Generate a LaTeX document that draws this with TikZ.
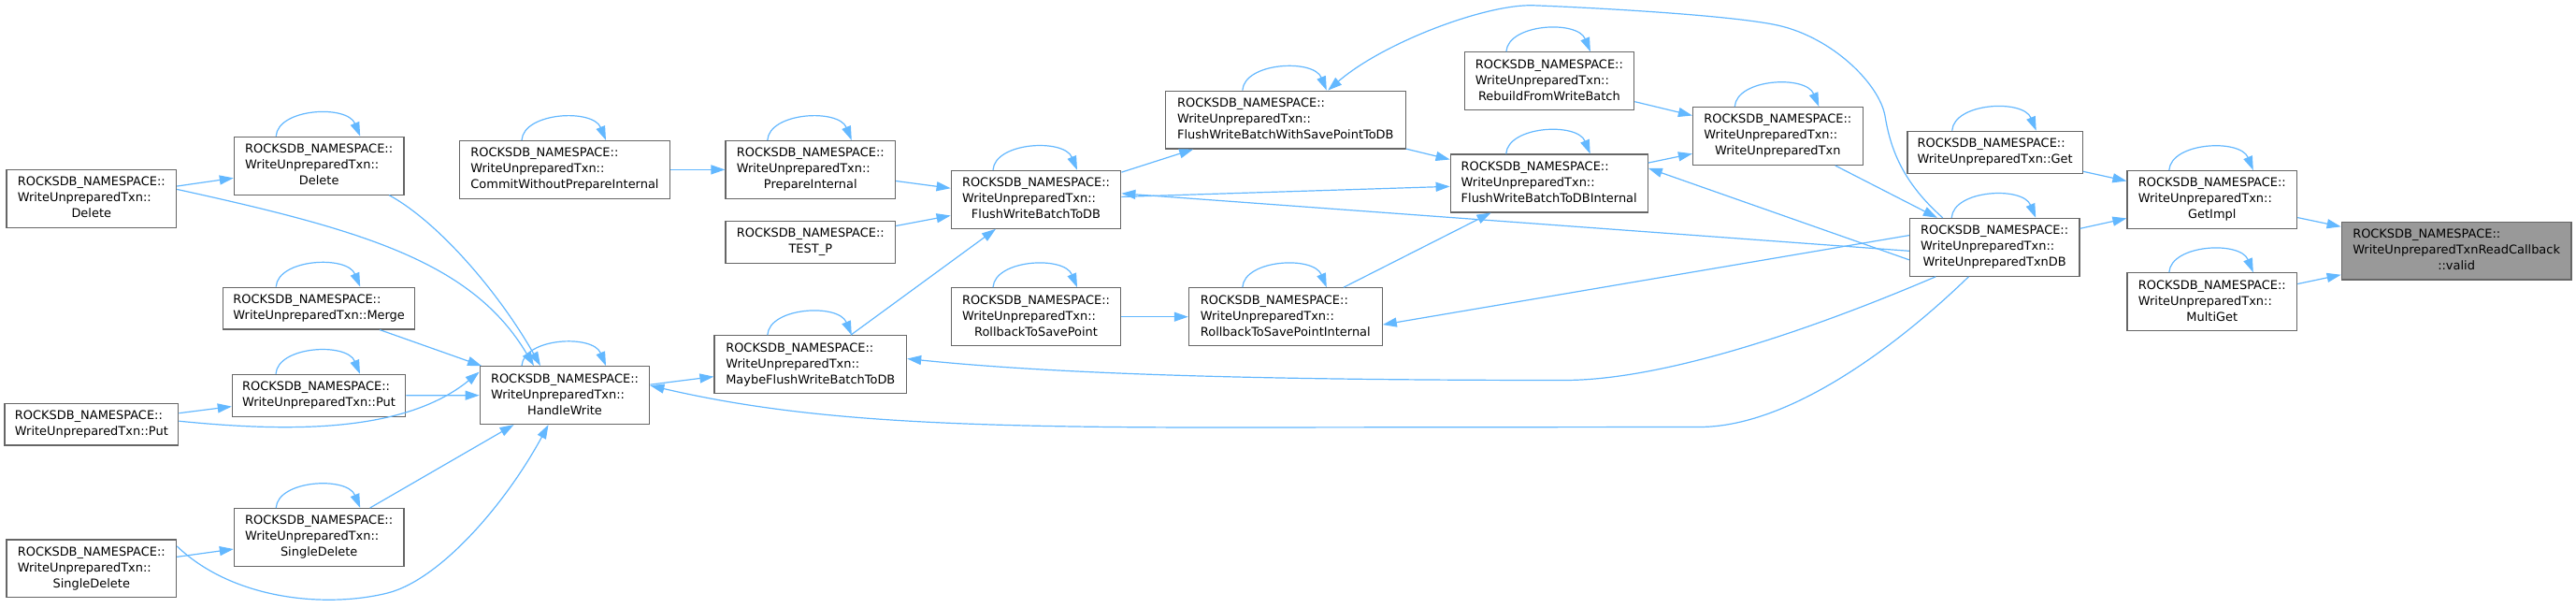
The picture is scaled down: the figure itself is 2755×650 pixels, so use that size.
\documentclass[tikz,border=0pt]{standalone}
\usepackage{fontspec}
\setmainfont{DejaVu Sans}
\usetikzlibrary{arrows.meta}
\definecolor{edgeblue}{HTML}{63B8FF}
\definecolor{nodeborder}{HTML}{666666}
\definecolor{hlfill}{HTML}{999999}
\newcommand{\nsA}{ROCKSDB\_NAMESPACE::}
\newcommand{\wut}{WriteUnpreparedTxn::}
\newcommand{\lblthree}[3]{\begin{tabular}{@{}l@{}}#1\\#2\\\multicolumn{1}{@{}c@{}}{#3}\end{tabular}}
\newcommand{\lbltwo}[2]{\begin{tabular}{@{}l@{}}#1\\\multicolumn{1}{@{}c@{}}{#2}\end{tabular}}
\newcommand{\selfloop}[1]{\draw[edge] ([xshift=-46pt]#1.north) .. controls +(2,-30) and +(-14,-34) .. ([xshift=44pt]#1.north);}
\tikzset{
  fn/.style={draw=nodeborder, line width=1.2pt, fill=white, inner sep=0pt,
    minimum height=61.8pt, minimum width=181.6pt,
    font=\fontsize{12.95}{17}\selectfont},
  two/.style={minimum height=44.8pt},
  edge/.style={draw=edgeblue, line width=1.2pt, -{Triangle[length=15pt,width=10pt]}}
}
\begin{document}
\begin{tikzpicture}[x=1pt,y=-1pt]
\fill[white] (0,0) rectangle (2755,650);
\useasboundingbox (0,0) rectangle (2755,650);

% nodes
\node[fn] (DelL) at (97.8,212.2) {\lblthree{\nsA}{\wut}{Delete}};
\node[fn] (DelM) at (341.2,177.2) {\lblthree{\nsA}{\wut}{Delete}};
\node[fn, minimum width=224.7pt] (CWPI) at (604,181.4) {\lblthree{\nsA}{\wut}{CommitWithoutPrepareInternal}};
\node[fn, two, minimum width=204.7pt] (Merge) at (341.2,329.6) {\lbltwo{\nsA}{WriteUnpreparedTxn::Merge}};
\node[fn, two, minimum width=185.3pt] (PutM) at (341,422.8) {\lbltwo{\nsA}{WriteUnpreparedTxn::Put}};
\node[fn, two, minimum width=185.7pt] (PutL) at (97.9,453.5) {\lbltwo{\nsA}{WriteUnpreparedTxn::Put}};
\node[fn] (HW) at (604,422.6) {\lblthree{\nsA}{\wut}{HandleWrite}};
\node[fn] (SDM) at (341.2,574.5) {\lblthree{\nsA}{\wut}{SingleDelete}};
\node[fn] (SDL) at (97.8,607.9) {\lblthree{\nsA}{\wut}{SingleDelete}};
\node[fn] (Prep) at (866.8,181.4) {\lblthree{\nsA}{\wut}{PrepareInternal}};
\node[fn, two] (TestP) at (866.8,258.7) {\lbltwo{\nsA}{TEST\_P}};
\node[fn, minimum width=205.6pt] (Maybe) at (866.8,389.7) {\lblthree{\nsA}{\wut}{MaybeFlushWriteBatchToDB}};
\node[fn] (FWB) at (1108,213.3) {\lblthree{\nsA}{\wut}{FlushWriteBatchToDB}};
\node[fn] (RbSP) at (1108,338.7) {\lblthree{\nsA}{\wut}{RollbackToSavePoint}};
\node[fn, minimum width=256.6pt] (FWBSP) at (1374.8,128.1) {\lblthree{\nsA}{\wut}{FlushWriteBatchWithSavePointToDB}};
\node[fn, minimum width=206.9pt] (RbSPI) at (1374.8,338.7) {\lblthree{\nsA}{\wut}{RollbackToSavePointInternal}};
\node[fn] (Rebuild) at (1656.9,86.7) {\lblthree{\nsA}{\wut}{RebuildFromWriteBatch}};
\node[fn, minimum width=211pt] (FWBI) at (1656.7,196) {\lblthree{\nsA}{\wut}{FlushWriteBatchToDBInternal}};
\node[fn] (WUT) at (1901.3,145.5) {\lblthree{\nsA}{\wut}{WriteUnpreparedTxn}};
\node[fn, two, minimum width=187.3pt] (Get) at (2133.7,162.7) {\lbltwo{\nsA}{WriteUnpreparedTxn::Get}};
\node[fn] (WUTDB) at (2133.2,264.3) {\lblthree{\nsA}{\wut}{WriteUnpreparedTxnDB}};
\node[fn] (GetImpl) at (2365.8,213.5) {\lblthree{\nsA}{\wut}{GetImpl}};
\node[fn] (MultiGet) at (2365.8,322.7) {\lblthree{\nsA}{\wut}{MultiGet}};
\node[fn, fill=hlfill, minimum width=245.8pt] (Valid) at (2627.1,268) {\lblthree{\nsA}{WriteUnpreparedTxnReadCallback}{::valid}};

% self loops
\foreach \n in {DelM,Merge,PutM,SDM,CWPI,HW,Prep,Maybe,FWB,RbSP,FWBSP,RbSPI,Rebuild,FWBI,WUT,Get,WUTDB,GetImpl,MultiGet}{\selfloop{\n}}

% left part
\draw[edge] (DelL) -- (DelM);
\draw[edge] ([yshift=9.8pt]DelL.east) .. controls (388.6,246) and (505,280) .. ([xshift=-33pt]HW.north);
\draw[edge] ([xshift=75pt]DelM.south) .. controls (470,238) and (535,315) .. ([xshift=-26pt]HW.north);
\draw[edge] (Merge) -- (HW);
\draw[edge] (PutM) -- (HW);
\draw[edge] (PutL) -- (PutM);
\draw[edge] ([yshift=3.3pt]PutL.east) .. controls (300,461) and (430,465) .. ([yshift=25pt]HW.west);
\draw[edge] (SDM) -- (HW);
\draw[edge] (SDL) -- (SDM);
\draw[edge] ([yshift=24pt]SDL.east) .. controls (250,642) and (350,650) .. (414.5,634) .. controls (470,620) and (540,540) .. ([xshift=-17.5pt]HW.south);

% middle
\draw[edge] (CWPI) -- (Prep);
\draw[edge] (Prep) -- (FWB);
\draw[edge] (TestP) -- (FWB);
\draw[edge] (Maybe) -- (FWB);
\draw[edge] (HW) -- (Maybe);
\draw[edge] (FWB) -- (FWBSP);
\draw[edge] (FWB) -- (FWBI);
\draw[edge] (FWBSP) -- (FWBI);
\draw[edge] (RbSP) -- (RbSPI);
\draw[edge] (RbSPI) -- (FWBI);
\draw[edge] (Rebuild) -- (WUT);
\draw[edge] (FWBI) -- (WUT);
\draw[edge] (WUT) -- (WUTDB);

% from WriteUnpreparedTxnDB
\draw[edge] ([yshift=-4pt]WUTDB.west) -- ([yshift=6.5pt]FWB.east);
\draw[edge] ([yshift=-13.5pt]WUTDB.west) -- ([yshift=16.2pt]FWBI.east);
\draw[edge] ([yshift=12.7pt]WUTDB.west) -- ([yshift=-8.4pt]RbSPI.east);
\draw[edge] ([xshift=-63pt]WUTDB.south) .. controls (1990,330) and (1800,406.5) .. (1673,406.5) .. controls (1400,406.5) and (1150,402) .. ([yshift=6.2pt]Maybe.east);
\draw[edge] ([xshift=-27.8pt]WUTDB.south) .. controls (2060,340) and (1930,456) .. (1818,456.5) -- (1300,457) .. controls (1000,457) and (850,448) .. ([yshift=10.4pt]HW.east);
\draw[edge] ([xshift=-55.5pt]WUTDB.north) .. controls (2035,195) and (2022,160) .. (2016,124) .. controls (2010,90) and (1960,40) .. (1901,27) .. controls (1850,16) and (1700,8) .. (1640,5.8) .. controls (1590,4) and (1480,45) .. ([xshift=45.4pt]FWBSP.north);

% right part
\draw[edge] (Get) -- (GetImpl);
\draw[edge] (WUTDB) -- (GetImpl);
\draw[edge] (GetImpl) -- (Valid);
\draw[edge] (MultiGet) -- (Valid);
\end{tikzpicture}
\end{document}
